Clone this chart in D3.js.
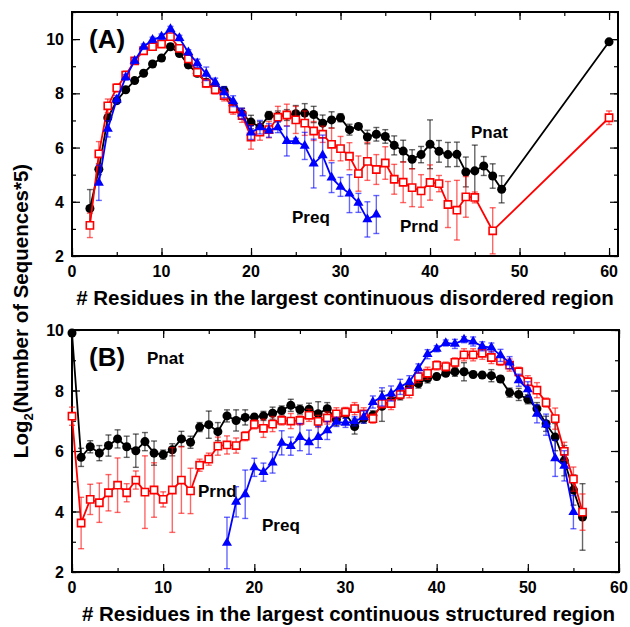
<!DOCTYPE html>
<html>
<head>
<meta charset="utf-8">
<script src="https://cdn.jsdelivr.net/npm/d3@7"></script>
<style>
  body { margin: 0; background: #fff; }
  svg text { font-family: "Liberation Sans", Arial, sans-serif; font-weight: bold; }
</style>
</head>
<body>
<svg id="chart" width="630" height="627"></svg>
<script>
// ---- data: panel A (disordered region) ----
var aNatX = d3.range(2, 49).concat([60]);
var aNatY = [3.75, 5.2, 7.1, 7.73, 8.13, 8.47, 8.74, 9.08, 9.3, 9.72, 9.47, 9.05, 8.74, 8.41, 8.2, 8.1, 7.55, 7.25, 6.94,
  6.75, 7.18, 7.15, 7.2, 7.25, 7.27, 7.22, 6.9, 7.02, 7.1, 6.66, 6.78, 6.39, 6.49, 6.41, 6.08, 5.87, 5.57, 5.74, 6.12,
  5.86, 5.74, 5.75, 5.1, 5.14, 5.32, 4.95, 4.46, 9.9];
var aNatErr = [0.7, 0.2, 0.12, 0.1, 0.1, 0.1, 0.1, 0.1, 0.1, 0.1, 0.1, 0.12, 0.12, 0.12, 0.12, 0.15, 0.15, 0.2, 0.25,
  0.2, 0.15, 0.2, 0.2, 0.3, 0.35, 0.3, 0.3, 0.3, 0.15, 0.2, 0.1, 0.25, 0.25, 0.25, 0.35, 0.4, 0.35, 0.3, 0.9,
  0.4, 0.45, 0.45, 0.55, 0.95, 0.35, 0.45, 0.5, 0.05];

var aRndX = d3.range(2, 46).concat([47, 60]);
var aRndY = [3.13, 5.77, 7.54, 8.2, 8.67, 9.2, 9.57, 9.72, 9.82, 10.09, 9.66, 9.27, 8.78, 8.37, 8.13, 7.92, 7.43, 7.18, 6.39,
  6.57, 6.66, 7.12, 7.2, 7.02, 6.9, 6.61, 6.49, 6.12, 5.96, 5.68, 5.04, 5.49, 5.19, 5.43, 4.83, 4.72, 4.52, 4.4, 4.71,
  4.67, 3.9, 3.69, 4.18, 4.16, 2.93, 7.1];
var aRndErr = [0.45, 0.45, 0.25, 0.15, 0.15, 0.1, 0.1, 0.1, 0.1, 0.1, 0.1, 0.1, 0.15, 0.15, 0.15, 0.2, 0.2, 0.25, 0.45,
  0.3, 0.3, 0.4, 0.4, 0.5, 0.45, 0.35, 0.3, 0.6, 0.45, 0.5, 0.65, 0.7, 0.55, 0.6, 0.55, 0.75, 0.7, 0.6, 0.65,
  0.3, 0.85, 1.1, 0.75, 0.2, 0.85, 0.25];

var aReqX = d3.range(3, 35);
var aReqY = [4.7, 6.69, 7.77, 8.59, 9.2, 9.72, 9.97, 10.09, 10.37, 10.04, 9.51, 9.11, 8.72, 8.41, 8.04, 7.71, 7.25, 6.55,
  6.75, 6.63, 6.75, 6.24, 6.24, 6.06, 5.41, 5.71, 4.89, 4.55, 4.3, 3.96, 3.35, 3.53];
var aReqErr = [0.65, 0.3, 0.15, 0.1, 0.1, 0.1, 0.1, 0.1, 0.1, 0.1, 0.1, 0.15, 0.25, 0.15, 0.2, 0.2, 0.2, 0.25,
  0.25, 0.25, 0.2, 0.55, 0.1, 0.5, 0.9, 0.75, 0.55, 0.35, 0.7, 0.35, 0.65, 0.7];

// ---- data: panel B (structured region) ----
var bNatX = d3.range(0, 57);
var bNatY = [9.9, 5.79, 6.14, 5.93, 6.18, 6.4, 6.14, 6.01, 6.31, 5.93, 5.88, 6.04, 6.4, 6.29, 6.79, 6.87, 6.64, 7.16, 7.01,
  7.11, 7.12, 7.16, 7.25, 7.34, 7.51, 7.37, 7.38, 7.23, 7.4, 7.04, 7.23, 6.81, 7.07, 7.18, 7.48, 7.68, 7.84, 8.1, 8.23,
  8.4, 8.46, 8.57, 8.62, 8.62, 8.53, 8.51, 8.49, 8.38, 7.93, 7.87, 7.71, 7.4, 6.9, 6.46, 5.68, 4.71, 3.82];
var bNatErr = [0.05, 0.3, 0.2, 0.25, 0.35, 0.3, 0.35, 0.55, 0.3, 0.4, 0.15, 0.2, 0.25, 0.2, 0.15, 0.45, 0.3, 0.2, 0.35,
  0.25, 0.1, 0.15, 0.2, 0.15, 0.2, 0.15, 0.2, 0.4, 0.2, 0.2, 0.15, 0.25, 0.15, 0.15, 0.5, 0.2, 0.15, 0.15, 0.15,
  0.15, 0.1, 0.1, 0.15, 0.3, 0.1, 0.1, 0.2, 0.1, 0.15, 0.2, 0.15, 0.2, 0.25, 0.45, 0.5, 0.5, 1.1];

var bRndX = d3.range(0, 57);
var bRndY = [7.15, 3.62, 4.4, 4.29, 4.62, 4.87, 4.62, 5.04, 4.64, 4.71, 4.4, 4.71, 5.04, 4.68, 5.53, 5.73, 6.16, 6.2, 6.18,
  6.49, 6.88, 6.75, 6.89, 7.01, 6.99, 7.01, 7.18, 6.98, 7.09, 7.23, 7.29, 7.4, 7.23, 7.07, 7.57, 7.57, 7.87, 7.96, 8.46,
  8.57, 8.83, 8.79, 8.93, 9.18, 9.18, 9.23, 9.09, 8.98, 8.84, 8.62, 8.29, 8.01, 7.6, 7.07, 5.99, 5.07, 3.98];
var bRndErr = [0.3, 0.85, 0.5, 0.65, 0.6, 0.9, 0.3, 0.3, 1.2, 0.9, 0.25, 1.4, 1.1, 0.75, 0.2, 0.2, 0.3, 0.3, 0.25,
  0.15, 0.15, 0.3, 0.25, 0.15, 0.25, 0.15, 0.2, 0.2, 0.2, 0.2, 0.15, 0.2, 0.2, 0.15, 0.15, 0.2, 0.15, 0.2, 0.2,
  0.2, 0.15, 0.15, 0.15, 0.2, 0.2, 0.2, 0.2, 0.15, 0.2, 0.15, 0.2, 0.25, 0.15, 0.35, 0.3, 0.4, 0.6];

var bReqX = d3.range(17, 56);
var bReqY = [2.96, 4.32, 4.57, 5.46, 5.3, 5.62, 6.27, 6.16, 6.46, 6.29, 6.46, 6.68, 6.96, 6.93, 6.98, 7.12, 7.62, 7.79,
  7.9, 8.12, 8.29, 8.73, 9.2, 9.38, 9.57, 9.54, 9.68, 9.62, 9.46, 9.42, 9.16, 8.92, 8.34, 8.04, 7.23, 6.87, 5.76, 5.51, 3.98];
var bReqErr = [0.85, 0.5, 0.8, 0.3, 0.3, 0.35, 0.4, 0.3, 0.45, 0.4, 0.35, 0.3, 0.15, 0.15, 0.15, 0.2, 0.2, 0.3,
  0.25, 0.25, 0.2, 0.15, 0.15, 0.1, 0.1, 0.15, 0.1, 0.15, 0.15, 0.15, 0.2, 0.2, 0.2, 0.25, 0.3, 0.35, 0.6, 0.5, 0.55];

var yTicks = [2, 4, 6, 8, 10];
var xTicks = [0, 10, 20, 30, 40, 50, 60];

var svg = d3.select("#chart");

function zip(xs, ys, es) {
  return xs.map(function (x, i) { return { x: x, y: ys[i], e: es[i] }; });
}

// one panel with mirrored inward ticks on all four sides
function panel(opts) {
  var x = d3.scaleLinear().domain(opts.xDomain).range([opts.left, opts.right]);
  var y = d3.scaleLinear().domain(opts.yDomain).range([opts.bottom, opts.top]);
  var g = svg.append("g");

  var xMinor = d3.range(0, 61, 5), yMinor = d3.range(opts.yDomain[0], opts.yDomain[1] + 0.01, 1);

  function tickAxes(axisFn, scale, pos, major, minor) {
    g.append("g").attr("transform", pos)
      .call(axisFn(scale).tickValues(minor).tickSize(-4).tickFormat(""))
      .call(function (s) { s.select(".domain").remove(); });
    g.append("g").attr("transform", pos)
      .call(axisFn(scale).tickValues(major).tickSize(-8).tickFormat(""))
      .call(function (s) { s.select(".domain").remove(); });
  }
  tickAxes(d3.axisBottom, x, "translate(0," + opts.bottom + ")", xTicks, xMinor);
  tickAxes(d3.axisTop, x, "translate(0," + opts.top + ")", xTicks, xMinor);
  tickAxes(d3.axisLeft, y, "translate(" + opts.left + ",0)", yTicks, yMinor);
  tickAxes(d3.axisRight, y, "translate(" + opts.right + ",0)", yTicks, yMinor);
  g.selectAll(".tick line").attr("stroke", "#000").attr("stroke-width", 1.2);

  g.append("rect")
    .attr("x", opts.left).attr("y", opts.top)
    .attr("width", opts.right - opts.left).attr("height", opts.bottom - opts.top)
    .attr("fill", "none").attr("stroke", "#000").attr("stroke-width", 2);

  // tick labels
  g.selectAll(".xl").data(xTicks).enter().append("text")
    .attr("x", function (d) { return x(d); })
    .attr("y", opts.bottom + 21)
    .attr("text-anchor", "middle")
    .attr("font-size", 16)
    .text(function (d) { return d; });
  g.selectAll(".yl").data(yTicks).enter().append("text")
    .attr("x", opts.left - 8)
    .attr("y", function (d) { return y(d) + 6; })
    .attr("text-anchor", "end")
    .attr("font-size", 16)
    .text(function (d) { return d; });

  g.append("text")
    .attr("x", (opts.left + opts.right) / 2 + opts.titleShift)
    .attr("y", opts.bottom + 49)
    .attr("text-anchor", "middle")
    .attr("font-size", 20.5)
    .text(opts.xTitle);

  g.append("text")
    .attr("x", opts.left + 17).attr("y", opts.top + 36)
    .attr("font-size", 26)
    .text(opts.tag);

  opts.series.forEach(function (s) { drawSeries(g, x, y, s); });

  opts.notes.forEach(function (n) {
    g.append("text").attr("x", n[1]).attr("y", n[2]).attr("font-size", 17).text(n[0]);
  });
}

function drawSeries(g, x, y, s) {
  var pts = zip(s.xs, s.ys, s.es);
  var sg = g.append("g");

  var bars = sg.append("g").attr("stroke", s.color).attr("stroke-opacity", 0.6).attr("stroke-width", 1.4);
  pts.forEach(function (d) {
    var y0 = y(d.y - d.e), y1 = y(d.y + d.e), cx = x(d.x);
    bars.append("line").attr("x1", cx).attr("x2", cx).attr("y1", y0).attr("y2", y1);
    bars.append("line").attr("x1", cx - 3).attr("x2", cx + 3).attr("y1", y0).attr("y2", y0);
    bars.append("line").attr("x1", cx - 3).attr("x2", cx + 3).attr("y1", y1).attr("y2", y1);
  });

  sg.append("path").datum(pts)
    .attr("fill", "none").attr("stroke", s.color).attr("stroke-width", 1.8)
    .attr("d", d3.line().x(function (d) { return x(d.x); }).y(function (d) { return y(d.y); }));

  var sym = sg.selectAll(".m").data(pts).enter().append("path")
    .attr("transform", function (d) { return "translate(" + x(d.x) + "," + y(d.y) + ")"; });
  if (s.shape === "circle") {
    sym.attr("d", d3.symbol(d3.symbolCircle, 64)).attr("fill", s.color);
  } else if (s.shape === "square") {
    sym.attr("d", d3.symbol(d3.symbolSquare, 52)).attr("fill", "#fff")
      .attr("stroke", s.color).attr("stroke-width", 1.6);
  } else {
    sym.attr("d", d3.symbol(d3.symbolTriangle, 44)).attr("fill", s.color);
  }
}

panel({
  left: 72, right: 618, top: 12, bottom: 256,
  xDomain: [0, 61], yDomain: [2, 11],
  xTitle: "# Residues in the largest continuous disordered region",
  titleShift: 0,
  tag: "(A)",
  series: [
    { xs: aNatX, ys: aNatY, es: aNatErr, color: "#000", shape: "circle" },
    { xs: aRndX, ys: aRndY, es: aRndErr, color: "#ff0000", shape: "square" },
    { xs: aReqX, ys: aReqY, es: aReqErr, color: "#0000ff", shape: "triangle" }
  ],
  notes: [["Pnat", 471, 138], ["Preq", 292, 223], ["Prnd", 400, 232]]
});

panel({
  left: 72, right: 619, top: 330, bottom: 572,
  xDomain: [0, 60], yDomain: [2, 10],
  xTitle: "# Residues in the largest continuous structured region",
  titleShift: 3,
  tag: "(B)",
  series: [
    { xs: bNatX, ys: bNatY, es: bNatErr, color: "#000", shape: "circle" },
    { xs: bRndX, ys: bRndY, es: bRndErr, color: "#ff0000", shape: "square" },
    { xs: bReqX, ys: bReqY, es: bReqErr, color: "#0000ff", shape: "triangle" }
  ],
  notes: [["Pnat", 147, 364], ["Prnd", 198, 497], ["Preq", 262, 531]]
});

// shared y title with subscript
var yt = svg.append("text")
  .attr("transform", "translate(28,311) rotate(-90)")
  .attr("text-anchor", "middle")
  .attr("font-size", 20.5);
yt.append("tspan").text("Log");
yt.append("tspan").attr("font-size", 13).attr("dy", 5).text("2");
yt.append("tspan").attr("dy", -5).text("(Number of Sequences*5)");
</script>
</body>
</html>
